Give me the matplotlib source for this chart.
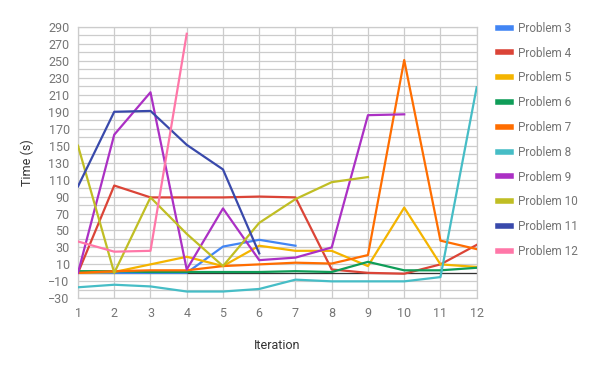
import matplotlib.pyplot as plt
import numpy as np

iterations = list(range(1, 13))

problem_3 = [0, 0, 0, 0, 31, 39, 32]
problem_4 = [0, 103, 89, 89, 89, 90, 89, 4, 0, -1, 10, 33]
problem_5 = [0, 1, 10, 19, 8, 32, 26, 26, 8, 77, 10, 7]
problem_6 = [2, 2, 1, 1, 1, 1, 2, 1, 13, 3, 3, 6]
problem_7 = [0, 2, 3, 3, 8, 10, 12, 11, 21, 251, 38, 28]
problem_8 = [-17, -14, -16, -22, -22, -19, -8, -10, -10, -10, -5, 219]
problem_9 = [0, 163, 213, 4, 76, 15, 18, 30, 186, 187]
problem_10 = [150, 0, 89, 46, 8, 59, 87, 107, 113]
problem_11 = [102, 190, 191, 151, 122, 23]
problem_12 = [37, 25, 26, 282]

series = [
    ("Problem 3", problem_3, "#4285F4"),
    ("Problem 4", problem_4, "#DB4437"),
    ("Problem 5", problem_5, "#F4B400"),
    ("Problem 6", problem_6, "#0F9D58"),
    ("Problem 7", problem_7, "#FF6D00"),
    ("Problem 8", problem_8, "#46BDC6"),
    ("Problem 9", problem_9, "#AB30C4"),
    ("Problem 10", problem_10, "#C0BE24"),
    ("Problem 11", problem_11, "#3949AB"),
    ("Problem 12", problem_12, "#FF77A8"),
]

plt.rcParams["font.family"] = ["Roboto", "DejaVu Sans"]

fig = plt.figure(figsize=(6, 3.71), dpi=100)
ax = fig.add_axes([78 / 600, 1 - 298.3 / 371, (476.7 - 78) / 600, (298.3 - 27) / 371])

for name, vals, color in series:
    ax.plot(iterations[:len(vals)], vals, color=color, lw=1.6, label=name, zorder=3)

ax.axhline(0, color="#333333", lw=0.9, zorder=2)

ax.set_xlim(1, 12)
ax.set_ylim(-30, 290)
ax.set_xticks(iterations)
ax.set_yticks(np.arange(-30, 291, 20))
ax.set_yticks(np.arange(-20, 291, 20), minor=True)
ax.grid(True, which="both", color="#CCCCCC", lw=0.9, zorder=0)
ax.tick_params(which="both", length=0, labelsize=9, colors="#757575", pad=6)
for s in ax.spines.values():
    s.set_color("#CCCCCC")
    s.set_linewidth(0.9)

ax.set_xlabel("Iteration", fontsize=9, color="#333333", labelpad=14)
ax.set_ylabel("Time (s)", fontsize=9, color="#333333", labelpad=10)

leg = fig.legend(loc="upper left", bbox_to_anchor=(493 / 600, 1 - 17 / 371), frameon=False,
                 fontsize=8.5, labelcolor="#757575", handlelength=1.1, handletextpad=0.6,
                 labelspacing=1.0, borderaxespad=0)
for line in leg.get_lines():
    line.set_linewidth(4)

fig.savefig("out.png", dpi=100)
